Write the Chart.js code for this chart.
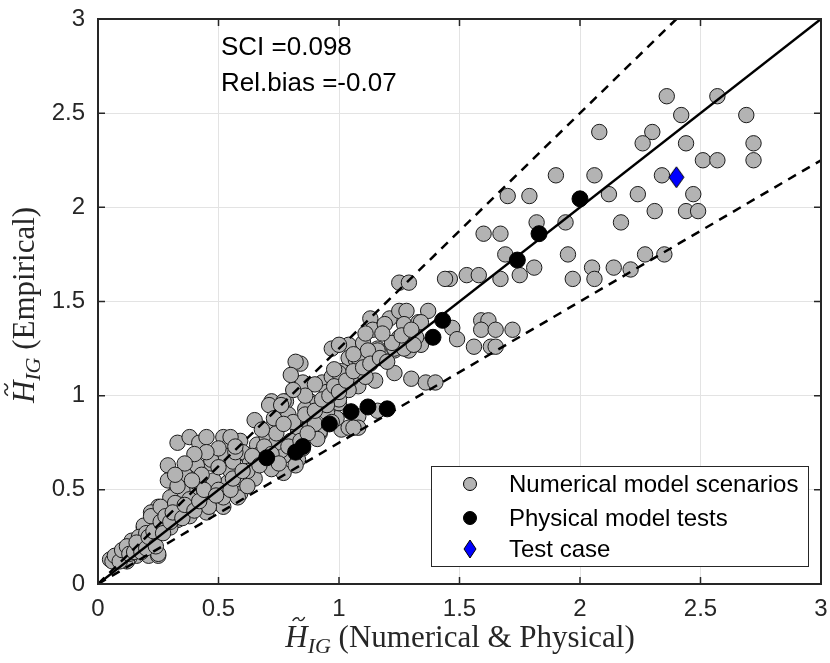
<!DOCTYPE html>
<html>
<head>
<meta charset="utf-8">
<script src="https://cdn.jsdelivr.net/npm/chart.js@4.4.0/dist/chart.umd.min.js"></script>
<style>
  html, body { margin: 0; padding: 0; background: #fff; }
</style>
</head>
<body>
<canvas id="scatterChart" width="830" height="663"></canvas>
<script>
// numerical model scenarios (grey)
const numX = [2.36,2.57,2.42,2.69,2.08,2.30,2.26,2.44,2.72,2.51,2.57,2.72,1.90,2.06,2.34,1.70,1.79,2.12,2.24,2.47,
  2.31,2.44,2.49,2.17,1.82,1.94,1.60,1.67,1.69,1.95,1.81,1.75,1.67,1.53,1.58,1.46,1.97,2.05,2.06,2.14,
  2.21,2.27,2.35,1.47,1.49,1.59,1.62,1.59,1.65,1.72,1.56,1.63,1.65,1.44,1.25,1.29,1.13,1.21,1.25,1.28,
  1.37,1.14,1.19,1.27,1.33,1.29,1.25,0.97,1.04,1.10,1.16,1.23,1.29,1.34,1.04,1.07,0.84,0.85,0.93,1.01,
  0.95,1.02,1.08,1.15,1.23,1.30,1.36,1.40,0.88,0.91,1.00,1.08,1.16,0.88,1.01,1.08,0.92,0.82,0.80,1.08,
  0.97,1.05,1.11,1.04,1.00,1.34,1.32,1.16,1.12,1.23,1.27,0.72,0.78,0.65,0.72,0.79,0.86,0.92,0.99,1.04,
  1.06,0.83,0.92,1.00,0.77,0.33,0.38,0.42,0.45,0.52,0.59,0.61,0.54,0.47,0.41,0.29,0.29,0.32,0.38,0.41,
  0.47,0.54,0.58,0.65,0.70,0.77,0.83,0.59,0.49,0.40,0.34,0.25,0.22,0.27,0.19,0.25,0.33,0.38,0.45,0.52,
  0.14,0.18,0.08,0.05,0.12,0.21,0.25,0.16,0.77,0.83,0.88,0.91,0.95,1.00,0.47,0.53,0.60,0.55,0.48,0.35,
  0.38,0.30,0.44,0.52,0.58,0.61,0.63,0.46,0.34,0.24,0.30,0.71,0.76,0.82,0.72,0.65,0.76,0.07,0.10,0.14,
  0.19,0.25,0.19,0.22,0.26,0.32,0.17,0.06,0.09,0.11,0.13,0.15,0.20,0.22,0.12,0.66,0.70,0.74,0.80,0.85,
  0.68,0.90,0.95,0.97,0.56,0.62,0.57,0.36,0.33,0.43,0.39,
  0.07,0.09,0.10,0.12,0.13,0.15,0.16,0.18,0.20,0.21,0.23,0.24,0.26,0.28,0.27,0.30,0.31,0.35,0.36,0.40,
  0.42,0.44,0.50,0.49,0.55,0.56,0.60,0.62,0.64,0.67,0.69,0.72,0.74,0.75,0.79,0.81,0.84,0.86,0.87,0.90,
  0.93,0.96,0.98,1.00,1.03,1.06,1.10,1.13,1.17,1.20,1.22,1.26,1.30,1.31,1.18,1.11,1.06,0.98,0.90,0.86,
  0.81,0.55,0.57,0.50,0.45,0.40,0.36,0.32,0.50,0.68,0.73,0.77];
const numY = [2.59,2.59,2.49,2.49,2.40,2.40,2.34,2.34,2.34,2.25,2.25,2.25,2.17,2.17,2.17,2.06,2.06,2.07,2.07,2.07,
  1.98,1.98,1.98,1.92,1.92,1.92,1.86,1.86,1.75,1.75,1.68,1.64,1.62,1.64,1.64,1.62,1.62,1.68,1.62,1.68,
  1.67,1.75,1.75,1.36,1.30,1.40,1.40,1.35,1.35,1.35,1.26,1.26,1.26,1.62,1.60,1.60,1.41,1.41,1.45,1.45,
  1.45,1.35,1.38,1.38,1.39,1.30,1.31,1.25,1.27,1.28,1.25,1.24,1.24,1.27,1.20,1.19,1.17,1.07,1.07,1.13,
  1.02,1.05,1.05,1.08,1.12,1.09,1.07,1.07,0.97,0.96,0.96,0.89,0.92,0.86,0.82,0.83,0.80,1.18,1.11,1.20,
  1.10,1.09,1.10,1.03,0.98,1.39,1.31,1.24,1.24,1.25,1.25,0.97,0.97,0.87,0.83,0.90,0.93,0.93,0.88,0.83,
  0.83,0.82,0.81,1.27,0.97,0.75,0.78,0.75,0.78,0.78,0.76,0.69,0.73,0.64,0.63,0.63,0.55,0.48,0.48,0.54,
  0.54,0.54,0.59,0.62,0.68,0.68,0.66,0.48,0.43,0.43,0.43,0.41,0.38,0.38,0.30,0.30,0.34,0.36,0.38,0.41,
  0.23,0.20,0.15,0.13,0.16,0.15,0.15,0.15,0.59,0.80,0.85,0.77,0.91,1.12,0.66,0.68,0.70,0.60,0.55,0.50,
  0.45,0.46,0.46,0.46,0.46,0.55,0.64,0.41,0.39,0.31,0.30,0.95,0.95,0.63,0.61,0.56,0.71,0.13,0.15,0.18,
  0.21,0.16,0.31,0.36,0.41,0.43,0.25,0.12,0.14,0.17,0.14,0.20,0.27,0.23,0.12,0.74,0.78,0.75,0.76,0.72,
  0.70,0.85,0.95,0.86,0.65,0.60,0.70,0.58,0.52,0.58,0.55,
  0.15,0.12,0.18,0.20,0.16,0.17,0.22,0.17,0.19,0.25,0.28,0.20,0.33,0.36,0.27,0.33,0.38,0.35,0.42,0.39,
  0.44,0.50,0.50,0.47,0.50,0.56,0.60,0.52,0.68,0.63,0.73,0.69,0.80,0.64,0.73,0.86,0.76,0.90,0.80,0.92,
  0.98,1.00,1.05,1.02,1.08,1.13,1.15,1.17,1.20,1.18,1.28,1.32,1.35,1.27,1.33,1.33,1.22,1.14,1.06,1.00,
  1.03,0.78,0.73,0.72,0.70,0.69,0.64,0.58,0.62,0.82,0.88,0.85];

// physical model tests (black)
const physX = [0.70,0.82,0.85,0.96,1.05,1.12,1.20,1.39,1.43,1.74,1.83,2.00];
const physY = [0.67,0.70,0.73,0.85,0.915,0.94,0.93,1.31,1.40,1.72,1.86,2.045];

// test case (blue diamond)
const testX = [2.40];
const testY = [2.16];

// reference lines: 1:1 and the +/-25 % band
const lineSlopes = [1, 1.25, 0.75];
const lineDash = [[], [9, 7], [9, 7]];

const axisMin = 0, axisMax = 3, axisStep = 0.5;
const statsText = ["SCI =0.098", "Rel.bias =-0.07"];
const legendLabels = ["Numerical model scenarios", "Physical model tests", "Test case"];

const toPoints = (xs, ys) => xs.map((x, i) => ({ x: x, y: ys[i] }));

function makeDiamond(w, h, fill) {
  const c = document.createElement("canvas");
  c.width = w + 2; c.height = h + 2;
  const g = c.getContext("2d");
  g.beginPath();
  g.moveTo(w / 2 + 1, 1);
  g.lineTo(w + 1, h / 2 + 1);
  g.lineTo(w / 2 + 1, h + 1);
  g.lineTo(1, h / 2 + 1);
  g.closePath();
  g.fillStyle = fill;
  g.fill();
  g.strokeStyle = "#000";
  g.lineWidth = 1;
  g.stroke();
  return c;
}
const diamond = makeDiamond(15, 21, "#0000ff");

const lineSets = lineSlopes.map((k, i) => {
  const xEnd = Math.min(axisMax, axisMax / k);
  return {
    type: "line",
    data: [{ x: 0, y: 0 }, { x: xEnd, y: k * xEnd }],
    borderColor: "#000",
    borderWidth: 2.5,
    borderDash: lineDash[i],
    pointRadius: 0,
    fill: false,
    order: 2,
  };
});

const TXT = "#262626";
const sansFont = "'Liberation Sans', Arial, Helvetica, sans-serif";
const serifFont = "'Liberation Serif', 'Times New Roman', serif";

function drawMathTitle(ctx, rest, cx, cy) {
  const big = "31px " + serifFont, bigIt = "italic 31px " + serifFont, sub = "italic 22px " + serifFont;
  ctx.font = bigIt; const wH = ctx.measureText("H").width;
  ctx.font = sub; const wS = ctx.measureText("IG").width;
  ctx.font = big; const wR = ctx.measureText(" " + rest).width;
  const total = wH + wS + wR;
  let x = cx - total / 2;
  ctx.fillStyle = TXT;
  ctx.textBaseline = "alphabetic";
  ctx.textAlign = "left";
  ctx.font = bigIt; ctx.fillText("H", x, cy + 10);
  // tilde over the H
  const tx = x + wH * 0.6, ty = cy - 18;
  ctx.beginPath();
  ctx.moveTo(tx - 6, ty + 2);
  ctx.bezierCurveTo(tx - 3, ty - 3, tx, ty - 1, tx, ty);
  ctx.bezierCurveTo(tx, ty + 1, tx + 3, ty + 4, tx + 6, ty - 2);
  ctx.strokeStyle = TXT; ctx.lineWidth = 1.4; ctx.stroke();
  x += wH;
  ctx.font = sub; ctx.fillText("IG", x, cy + 16);
  x += wS;
  ctx.font = big; ctx.fillText(" " + rest, x, cy + 10);
}

const decorPlugin = {
  id: "decor",
  afterDatasetsDraw(chart) {
    const ctx = chart.ctx, a = chart.chartArea;
    const xs = chart.scales.x, ys = chart.scales.y;
    ctx.save();
    // inner tick marks on all four sides
    ctx.strokeStyle = TXT; ctx.lineWidth = 1.5;
    for (let v = axisMin; v <= axisMax + 1e-9; v += axisStep) {
      const px = xs.getPixelForValue(v), py = ys.getPixelForValue(v);
      ctx.beginPath();
      ctx.moveTo(px, a.bottom); ctx.lineTo(px, a.bottom - 7);
      ctx.moveTo(px, a.top); ctx.lineTo(px, a.top + 7);
      ctx.moveTo(a.left, py); ctx.lineTo(a.left + 7, py);
      ctx.moveTo(a.right, py); ctx.lineTo(a.right - 7, py);
      ctx.stroke();
    }
    // frame
    ctx.lineWidth = 2;
    ctx.strokeRect(a.left, a.top, a.right - a.left, a.bottom - a.top);

    // stats text
    ctx.fillStyle = "#000";
    ctx.font = "26px " + sansFont;
    ctx.textAlign = "left"; ctx.textBaseline = "middle";
    ctx.fillText(statsText[0], 221, 48);
    ctx.fillText(statsText[1], 221, 84);

    // legend box
    const lx = 431, ly = 466, lw = 377, lh = 100;
    ctx.fillStyle = "#fff";
    ctx.fillRect(lx, ly, lw, lh);
    ctx.strokeStyle = "#262626"; ctx.lineWidth = 1;
    ctx.strokeRect(lx + 0.5, ly + 0.5, lw, lh);
    const rows = [484, 518, 549], mx = 470;
    ctx.lineWidth = 1; ctx.strokeStyle = "#000";
    ctx.beginPath(); ctx.arc(mx, rows[0], 6.5, 0, Math.PI * 2);
    ctx.fillStyle = "#b3b3b3"; ctx.fill(); ctx.stroke();
    ctx.beginPath(); ctx.arc(mx, rows[1], 6.5, 0, Math.PI * 2);
    ctx.fillStyle = "#000"; ctx.fill(); ctx.stroke();
    const d = makeDiamond(12, 18, "#0000ff");
    ctx.drawImage(d, mx - 7, rows[2] - 10);
    ctx.fillStyle = "#000";
    ctx.font = "24px " + sansFont;
    legendLabels.forEach((t, i) => ctx.fillText(t, 509, rows[i] + 1));

    // axis titles
    drawMathTitle(ctx, "(Numerical & Physical)", 460, 637);
    ctx.translate(26, 305);
    ctx.rotate(-Math.PI / 2);
    drawMathTitle(ctx, "(Empirical)", 0, -2);
    ctx.restore();
  },
};

const tickFmt = (v) => String(Math.round(v * 10) / 10);

const config = {
  type: "scatter",
  data: {
    datasets: [
      {
        label: legendLabels[2],
        data: toPoints(testX, testY),
        pointStyle: diamond,
        order: 0,
      },
      {
        label: legendLabels[1],
        data: toPoints(physX, physY),
        backgroundColor: "#000",
        borderColor: "#000",
        borderWidth: 1,
        pointRadius: 8,
        order: 1,
      },
      ...lineSets,
      {
        label: legendLabels[0],
        data: toPoints(numX, numY),
        backgroundColor: "#b3b3b3",
        borderColor: "#1a1a1a",
        borderWidth: 1,
        pointRadius: 7.7,
        order: 3,
      },
    ],
  },
  options: {
    responsive: false,
    animation: false,
    layout: { padding: { top: 19, right: 6, left: 0, bottom: 0 } },
    plugins: {
      legend: { display: false },
      tooltip: { enabled: false },
    },
    scales: {
      x: {
        type: "linear",
        min: axisMin, max: axisMax,
        afterFit(s) { s.height = 79; s.paddingLeft = 0; s.paddingRight = 0; },
        ticks: { stepSize: axisStep, color: TXT, padding: 11, callback: tickFmt, font: { family: sansFont, size: 24 } },
        grid: { color: "#e3e3e3", drawTicks: false },
        border: { display: false },
      },
      y: {
        type: "linear",
        min: axisMin, max: axisMax,
        afterFit(s) { s.width = 98; s.paddingTop = 0; s.paddingBottom = 0; },
        ticks: { stepSize: axisStep, color: TXT, padding: 13, callback: tickFmt, font: { family: sansFont, size: 24 } },
        grid: { color: "#e3e3e3", drawTicks: false },
        border: { display: false },
      },
    },
  },
  plugins: [decorPlugin],
};

const scatterChart = new Chart(document.getElementById("scatterChart"), config);
</script>
</body>
</html>
